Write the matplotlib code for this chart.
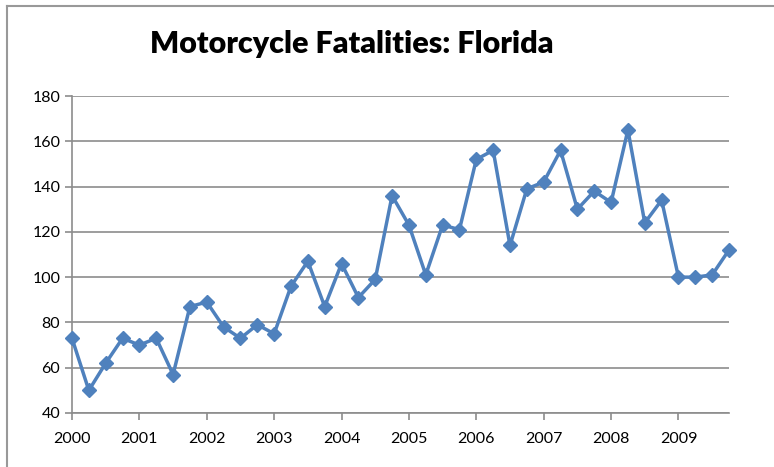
import matplotlib.pyplot as plt
from matplotlib.lines import Line2D
import numpy as np

# quarterly motorcycle fatalities, Florida
years = [2000, 2001, 2002, 2003, 2004, 2005, 2006, 2007, 2008, 2009]
fatalities = [73, 50, 62, 73,
              70, 73, 57, 87,
              89, 78, 73, 79,
              75, 96, 107, 87,
              106, 91, 99, 136,
              123, 101, 123, 121,
              152, 156, 114, 139,
              142, 156, 130, 138,
              133, 165, 124, 134,
              100, 100, 101, 112]

plt.rcParams['font.family'] = ['Lato', 'DejaVu Sans']

fig = plt.figure(figsize=(7.74, 4.67), dpi=100)
ax = fig.add_axes([72/774, 54/467, 657/774, 317/467])

x = np.arange(len(fatalities))
ax.plot(x, fatalities, color='#4F81BD', lw=2.5, marker='D', ms=7, zorder=3, clip_on=False)

ax.set_xlim(0, len(fatalities) - 1)
ax.set_ylim(40, 180)
ax.set_yticks(range(40, 181, 20))
ax.set_xticks(x[::4])
ax.set_xticklabels([str(y) for y in years])
ax.yaxis.grid(True, color='#8c8c8c', lw=1.2)
ax.set_axisbelow(True)
for s in ['top', 'right']:
    ax.spines[s].set_visible(False)
for s in ['left', 'bottom']:
    ax.spines[s].set_color('#8c8c8c')
    ax.spines[s].set_linewidth(1.2)
ax.tick_params(colors='#8c8c8c', length=5, width=1.2, labelcolor='black', labelsize=11.5)
ax.tick_params(axis='x', pad=9)

fig.text(352/774, 0.905, 'Motorcycle Fatalities: Florida', ha='center', va='center',
         fontsize=22, fontweight='heavy')

# outer chart frame
fig.add_artist(Line2D([6.5/774, 6.5/774], [0, 1 - 6/467], transform=fig.transFigure, color='#999999', lw=1.5))
fig.add_artist(Line2D([6.5/774, 1], [1 - 6/467, 1 - 6/467], transform=fig.transFigure, color='#999999', lw=1.5))

fig.savefig('out.png')
